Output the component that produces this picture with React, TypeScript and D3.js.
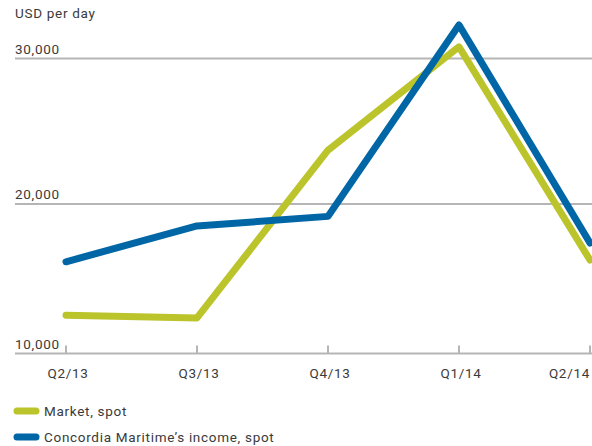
import React from "react";
import * as d3 from "d3";

const quarters = ["Q2/13", "Q3/13", "Q4/13", "Q1/14", "Q2/14"];
const market = [12350, 12170, 23700, 30800, 16150];
const concordia = [16030, 18490, 19150, 32300, 17320];
const yTicks = [10000, 20000, 30000];

const GREEN = "#bcc42b";
const BLUE = "#0066a6";
const GRID = "#b5b5b5";
const TEXT = "#3a3a3a";

const width = 592;
const height = 446;

export default function App() {
  const x = d3.scalePoint<string>().domain(quarters).range([66, 590]);
  const y = d3.scaleLinear().domain([10000, 30000]).range([349.5, 58.5]);
  const axisY = y(10000) + 4;

  const line = d3
    .line<number>()
    .x((_, i) => x(quarters[i]) as number)
    .y((d) => y(d));

  const fmt = d3.format(",");

  const font = "Roboto, 'DejaVu Sans', sans-serif";
  const fs = 13.5;
  const ls = 0.7;

  return (
    <svg
      width={width}
      height={height}
      style={{ position: "absolute", left: 0, top: 0, background: "#fff" }}
      fontFamily={font}
      fontSize={fs}
      letterSpacing={ls}
    >
      <text x={15} y={18} fill={TEXT}>
        USD per day
      </text>

      {yTicks.slice(1).map((t) => (
        <g key={t}>
          <line x1={15} x2={width} y1={y(t)} y2={y(t)} stroke={GRID} strokeWidth={2} />
          <text x={15} y={y(t) - 5} fill={TEXT}>
            {fmt(t)}
          </text>
        </g>
      ))}

      <line x1={15} x2={width} y1={axisY} y2={axisY} stroke={GRID} strokeWidth={2} />
      <text x={15} y={y(10000) - 1} fill={TEXT}>
        {fmt(yTicks[0])}
      </text>
      {quarters.map((q, i) => (
        <g key={q}>
          <line
            x1={x(q)}
            x2={x(q)}
            y1={axisY - 8}
            y2={axisY}
            stroke={GRID}
            strokeWidth={2}
          />
          <text
            x={i === quarters.length - 1 ? (x(q) as number) : (x(q) as number) + 2}
            y={378}
            fill={TEXT}
            textAnchor={i === quarters.length - 1 ? "end" : "middle"}
          >
            {q}
          </text>
        </g>
      ))}

      <path
        d={line(market) ?? ""}
        fill="none"
        stroke={GREEN}
        strokeWidth={7}
        strokeLinecap="round"
        strokeLinejoin="round"
      />
      <path
        d={line(concordia) ?? ""}
        fill="none"
        stroke={BLUE}
        strokeWidth={7}
        strokeLinecap="round"
        strokeLinejoin="round"
      />

      {[
        { label: "Market, spot", color: GREEN },
        { label: "Concordia Maritime\u2019s income, spot", color: BLUE },
      ].map((d, i) => (
        <g key={d.label} transform={`translate(0, ${411 + i * 26})`}>
          <line x1={17} x2={36} y1={0} y2={0} stroke={d.color} strokeWidth={7} strokeLinecap="round" />
          <text x={44} y={5} fill={TEXT}>
            {d.label}
          </text>
        </g>
      ))}
    </svg>
  );
}
